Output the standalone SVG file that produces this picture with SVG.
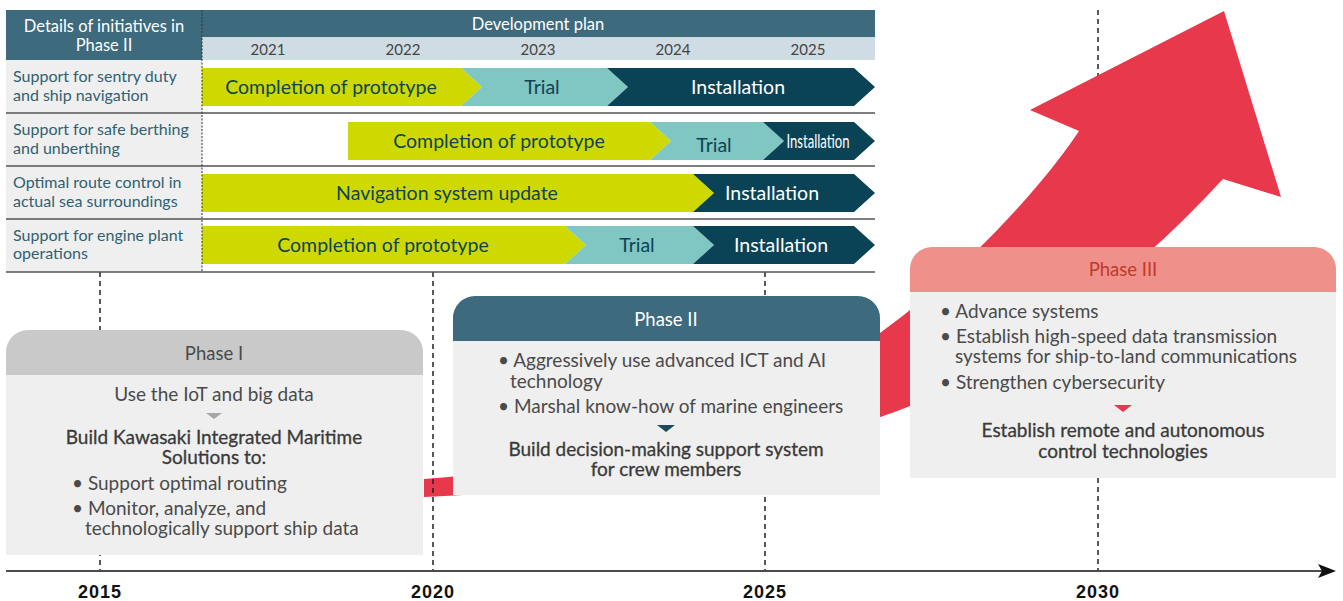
<svg xmlns="http://www.w3.org/2000/svg" width="1343" height="601" viewBox="0 0 1343 601">
<defs>
<style>
text{font-family:Lato,"Open Sans","Liberation Sans",sans-serif;}
.hdr{fill:#ffffff;font-size:16.5px;text-anchor:middle;}
.yr{fill:#444444;font-size:15px;text-anchor:middle;}
.lbl{fill:#2F6172;font-size:16px;}
.bt{fill:#0F4457;font-size:19.5px;text-anchor:middle;}
.bw{fill:#ffffff;font-size:19.5px;text-anchor:middle;}
.sep{stroke:#555555;stroke-width:1.5;}
.dash{stroke:#222222;stroke-width:1.5;stroke-dasharray:5 4;fill:none;}
.lime{fill:#CDD900;}
.teal{fill:#80C6C2;}
.navy{fill:#0B4356;}
.body{fill:#EFEFEF;}
.pt{fill:#4A4A4A;font-size:19px;}
.ptc{fill:#4A4A4A;font-size:19px;text-anchor:middle;}
.ptb{fill:#3A3A3A;font-size:19px;text-anchor:middle;stroke:#3A3A3A;stroke-width:0.3;}
.ttl{font-size:18.5px;text-anchor:middle;}
.axisyr{font-family:"Liberation Sans",Arial,sans-serif;font-weight:bold;font-size:18px;fill:#111111;text-anchor:middle;letter-spacing:1px;}
</style>
</defs>

<!-- year guide lines (behind) -->
<g id="guides">
<line class="dash" x1="100" y1="272" x2="100" y2="570"/>
<line class="dash" x1="765" y1="272" x2="765" y2="570"/>
<line class="dash" x1="1098" y1="10" x2="1098" y2="570"/>
</g>

<!-- growth arrow -->
<g id="growth-arrow">
<path fill="#E8384C" d="M424,497 C600,490 800,450 910,406 C1020,360 1120,290 1223,179 L1281,197 L1224,11 L1030,110 L1079,131 C1040,190 960,275 880,333 C800,390 620,466 424,479 Z"/>
</g>

<g id="guide-2020">
<line class="dash" x1="433" y1="272" x2="433" y2="570"/>
</g>

<!-- table -->
<g id="table-header">
<rect x="6" y="10" width="196" height="50" fill="#3D6A7D"/>
<text class="hdr" x="104" y="32">Details of initiatives in</text>
<text class="hdr" x="104" y="51">Phase II</text>
<rect x="202" y="10" width="673" height="27" fill="#3D6A7D"/>
<text class="hdr" x="538" y="30">Development plan</text>
<rect x="202" y="37" width="673" height="23" fill="#CFDCE3"/>
<text class="yr" x="268" y="55">2021</text>
<text class="yr" x="403" y="55">2022</text>
<text class="yr" x="538" y="55">2023</text>
<text class="yr" x="673" y="55">2024</text>
<text class="yr" x="808" y="55">2025</text>
</g>

<g id="row-labels">
<rect x="6" y="60" width="196" height="212" fill="#EFEFEF"/>
<text class="lbl" x="13" y="82">Support for sentry duty</text>
<text class="lbl" x="13" y="101">and ship navigation</text>
<text class="lbl" x="13" y="135">Support for safe berthing</text>
<text class="lbl" x="13" y="154">and unberthing</text>
<text class="lbl" x="13" y="188">Optimal route control in</text>
<text class="lbl" x="13" y="207">actual sea surroundings</text>
<text class="lbl" x="13" y="241">Support for engine plant</text>
<text class="lbl" x="13" y="259">operations</text>
</g>

<g id="row1">
<polygon class="lime" points="202,68 461,68 482,87 461,106 202,106"/>
<polygon class="teal" points="461,68 607,68 628,87 607,106 461,106 482,87"/>
<polygon class="navy" points="607,68 854,68 875,87 854,106 607,106 628,87"/>
<text class="bt" x="331" y="94">Completion of prototype</text>
<text class="bt" x="542" y="94">Trial</text>
<text class="bw" x="738" y="94">Installation</text>
</g>

<g id="row2">
<polygon class="lime" points="348,122 650,122 671,141 650,160 348,160"/>
<polygon class="teal" points="650,122 763,122 784,141 763,160 650,160 671,141"/>
<polygon class="navy" points="763,122 854,122 875,141 854,160 763,160 784,141"/>
<text class="bt" x="499" y="148">Completion of prototype</text>
<text class="bt" x="714" y="152">Trial</text>
<text class="bw" x="818" y="148" font-size="16" textLength="63" lengthAdjust="spacingAndGlyphs">Installation</text>
</g>

<g id="row3">
<polygon class="lime" points="202,174 693,174 714,193 693,212 202,212"/>
<polygon class="navy" points="693,174 854,174 875,193 854,212 693,212 714,193"/>
<text class="bt" x="447" y="200">Navigation system update</text>
<text class="bw" x="772" y="200">Installation</text>
</g>

<g id="row4">
<polygon class="lime" points="202,226 565,226 586,245 565,264 202,264"/>
<polygon class="teal" points="565,226 693,226 714,245 693,264 565,264 586,245"/>
<polygon class="navy" points="693,226 854,226 875,245 854,264 693,264 714,245"/>
<text class="bt" x="383" y="252">Completion of prototype</text>
<text class="bt" x="637" y="252">Trial</text>
<text class="bw" x="781" y="252">Installation</text>
</g>

<g id="table-lines">
<line class="sep" x1="6" y1="113" x2="875" y2="113"/>
<line class="sep" x1="6" y1="166" x2="875" y2="166"/>
<line class="sep" x1="6" y1="219" x2="875" y2="219"/>
<line class="sep" x1="6" y1="272" x2="875" y2="272"/>
<line x1="202" y1="10" x2="202" y2="272" stroke="#333333" stroke-width="1" stroke-dasharray="2 1.5"/>
</g>

<!-- Phase I -->
<g id="phase1">
<path fill="#C9C9C9" d="M6,375 V352 A22,22 0 0 1 28,330 H401 A22,22 0 0 1 423,352 V375 Z"/>
<rect class="body" x="6" y="375" width="417" height="180"/>
<text class="ttl" x="214" y="360" fill="#4A4A4A">Phase I</text>
<text class="ptc" x="214" y="401">Use the IoT and big data</text>
<polygon points="206,413 222,413 214,419" fill="#A6A6A6"/>
<text class="ptb" x="214" y="444">Build Kawasaki Integrated Maritime</text>
<text class="ptb" x="214" y="464">Solutions to:</text>
<text class="pt" x="72" y="490">• Support optimal routing</text>
<text class="pt" x="72" y="515">• Monitor, analyze, and</text>
<text class="pt" x="85" y="535">technologically support ship data</text>
</g>

<!-- Phase II -->
<g id="phase2">
<path fill="#3D6A7D" d="M453,341 V318 A22,22 0 0 1 475,296 H858 A22,22 0 0 1 880,318 V341 Z"/>
<rect class="body" x="453" y="341" width="427" height="154"/>
<text class="ttl" x="666" y="326" fill="#ffffff">Phase II</text>
<text class="pt" x="498" y="367">• Aggressively use advanced ICT and AI</text>
<text class="pt" x="510" y="388">technology</text>
<text class="pt" x="498" y="413">• Marshal know-how of marine engineers</text>
<polygon points="657,425 675,425 666,432" fill="#1D4A5C"/>
<text class="ptb" x="666" y="456">Build decision-making support system</text>
<text class="ptb" x="666" y="476">for crew members</text>
</g>

<!-- Phase III -->
<g id="phase3">
<path fill="#F0908A" d="M910,292 V269 A22,22 0 0 1 932,247 H1314 A22,22 0 0 1 1336,269 V292 Z"/>
<rect class="body" x="910" y="292" width="426" height="186"/>
<text class="ttl" x="1123" y="276" fill="#C0392B">Phase III</text>
<text class="pt" x="940" y="318">• Advance systems</text>
<text class="pt" x="940" y="343">• Establish high-speed data transmission</text>
<text class="pt" x="955" y="363">systems for ship-to-land communications</text>
<text class="pt" x="940" y="389">• Strengthen cybersecurity</text>
<polygon points="1114,405 1132,405 1123,412" fill="#E8384C"/>
<text class="ptb" x="1123" y="437">Establish remote and autonomous</text>
<text class="ptb" x="1123" y="458">control technologies</text>
</g>

<!-- time axis -->
<g id="axis">
<line x1="6" y1="571" x2="1325" y2="571" stroke="#111111" stroke-width="1.5"/>
<polygon points="1336,571 1318,564 1322,571 1318,578" fill="#111111"/>
<text class="axisyr" x="100" y="598">2015</text>
<text class="axisyr" x="433" y="598">2020</text>
<text class="axisyr" x="765" y="598">2025</text>
<text class="axisyr" x="1098" y="598">2030</text>
</g>
</svg>
